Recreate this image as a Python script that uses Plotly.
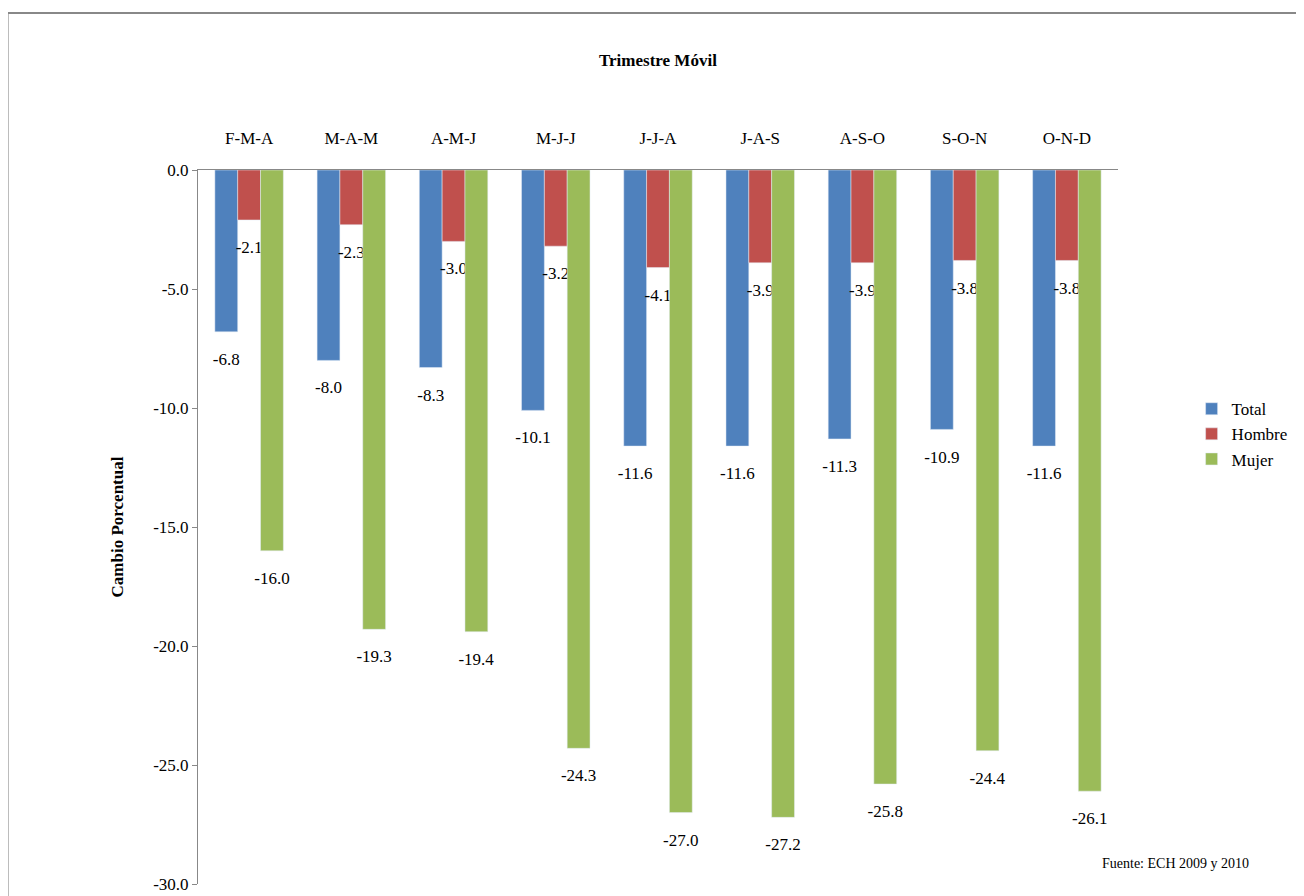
import plotly.graph_objects as go

categories = ["F-M-A","M-A-M","A-M-J","M-J-J","J-J-A","J-A-S","A-S-O","S-O-N","O-N-D"]
total = [-6.8,-8.0,-8.3,-10.1,-11.6,-11.6,-11.3,-10.9,-11.6]
hombre = [-2.1,-2.3,-3.0,-3.2,-4.1,-3.9,-3.9,-3.8,-3.8]
mujer = [-16.0,-19.3,-19.4,-24.3,-27.0,-27.2,-25.8,-24.4,-26.1]
yticks = [0, -5, -10, -15, -20, -25, -30]

font = "Liberation Serif, DejaVu Serif, serif"
fig = go.Figure()
for name, vals, col in [("Total", total, "#4F81BD"), ("Hombre", hombre, "#C0504D"), ("Mujer", mujer, "#9BBB59")]:
    fig.add_trace(go.Bar(x=categories, y=vals, name=name, marker_color=col,
                         text=[f"<span style='font-size:9px'> </span><br>{v:.1f}" for v in vals],
                         textposition="outside", constraintext="none",
                         textfont=dict(size=17, color="black", family=font), cliponaxis=False))

fig.update_layout(
    width=1304, height=896, barmode="group", bargap=0.33, bargroupgap=0,
    plot_bgcolor="white", paper_bgcolor="white",
    font=dict(family=font, size=17, color="black"),
    margin=dict(l=190, r=194, t=162, b=10),
    xaxis=dict(side="top", showline=True, linecolor="#888", ticks="", tickfont=dict(size=17),
               ticklabelstandoff=18),
    yaxis=dict(range=[-30, 0], tickvals=yticks, ticktext=[f"{v:.1f}".replace("-0.0", "0.0") for v in yticks],
               showgrid=False, showline=True,
               linecolor="#888", ticks="outside", ticklen=5, tickcolor="#888", zeroline=False,
               title=dict(text="<b>Cambio Porcentual</b>", standoff=25, font=dict(size=17))),
    legend=dict(x=1.08, y=0.63, xanchor="left", yanchor="middle", font=dict(size=17), traceorder="normal",
                tracegroupgap=12),
    showlegend=True,
    annotations=[
        dict(text="<b>Trimestre Móvil</b>", x=0.5, y=1.17, xref="paper", yref="paper", showarrow=False, font=dict(size=17)),
        dict(text="Fuente: ECH 2009 y 2010", x=1.145, y=0.015, xref="paper", yref="paper", showarrow=False, xanchor="right", font=dict(size=14)),
    ],
    shapes=[dict(type="rect", xref="paper", yref="paper", x0=-0.207, x1=1.2, y0=-0.05, y1=1.22,
                 line=dict(color="#888", width=2))],
)
fig.write_html("out.html")
